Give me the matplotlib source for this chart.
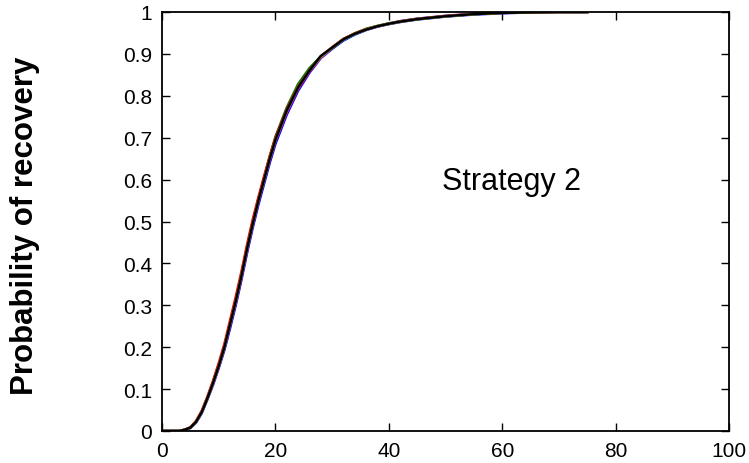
import matplotlib
matplotlib.use('Agg')
import matplotlib.pyplot as plt

plt.rcParams['font.family'] = ['Liberation Sans', 'DejaVu Sans']

# recovery time grid (x) and cumulative probability per run
days = [0, 3, 4, 5, 6, 7, 8, 9, 10, 11, 12, 13, 14, 15, 16, 17, 18, 19, 20,
        22, 24, 26, 28, 30, 32, 34, 36, 38, 40, 42, 45, 50, 55, 60, 65, 70, 75]

run_blue = [0, 0, 0.002, 0.007, 0.020, 0.042, 0.075, 0.110, 0.150, 0.193, 0.245, 0.300,
            0.360, 0.425, 0.485, 0.540, 0.590, 0.640, 0.685, 0.755, 0.812, 0.855, 0.890,
            0.912, 0.932, 0.946, 0.957, 0.965, 0.971, 0.976, 0.982, 0.989, 0.994, 0.997,
            0.999, 1.0, 1.0]
run_green = [0, 0, 0.003, 0.008, 0.022, 0.046, 0.079, 0.116, 0.156, 0.201, 0.256, 0.312,
             0.372, 0.437, 0.498, 0.553, 0.604, 0.655, 0.702, 0.772, 0.828, 0.866, 0.894,
             0.913, 0.934, 0.949, 0.960, 0.967, 0.973, 0.978, 0.984, 0.990, 0.995, 0.998,
             0.999, 1.0, 1.0]
run_red = [0, 0, 0.003, 0.009, 0.024, 0.048, 0.082, 0.120, 0.162, 0.208, 0.264, 0.320,
           0.380, 0.445, 0.505, 0.558, 0.608, 0.656, 0.700, 0.768, 0.822, 0.861, 0.893,
           0.916, 0.936, 0.949, 0.959, 0.966, 0.972, 0.977, 0.983, 0.990, 0.995, 0.998,
           0.999, 1.0, 1.0]
run_cyan = [0, 0, 0.002, 0.008, 0.021, 0.044, 0.077, 0.114, 0.154, 0.199, 0.253, 0.308,
            0.368, 0.433, 0.493, 0.548, 0.598, 0.648, 0.693, 0.762, 0.818, 0.858, 0.892,
            0.914, 0.934, 0.947, 0.958, 0.966, 0.972, 0.977, 0.983, 0.990, 0.995, 0.998,
            0.999, 1.0, 1.0]
run_magenta = [0, 0, 0.003, 0.008, 0.021, 0.045, 0.077, 0.113, 0.153, 0.198, 0.252, 0.306,
               0.366, 0.431, 0.492, 0.547, 0.597, 0.647, 0.692, 0.760, 0.816, 0.857, 0.891,
               0.914, 0.935, 0.948, 0.958, 0.966, 0.972, 0.978, 0.984, 0.991, 0.996, 0.998,
               0.999, 1.0, 1.0]
run_yellow = [0, 0, 0.003, 0.008, 0.022, 0.045, 0.078, 0.115, 0.155, 0.200, 0.255, 0.310,
              0.370, 0.435, 0.495, 0.550, 0.600, 0.650, 0.695, 0.764, 0.820, 0.860, 0.893,
              0.915, 0.935, 0.948, 0.958, 0.966, 0.972, 0.977, 0.983, 0.990, 0.995, 0.998,
              0.999, 1.0, 1.0]
run_black = [0, 0, 0.003, 0.008, 0.022, 0.045, 0.078, 0.115, 0.155, 0.200, 0.255, 0.310,
             0.370, 0.435, 0.495, 0.550, 0.600, 0.650, 0.695, 0.765, 0.820, 0.860, 0.895,
             0.915, 0.935, 0.948, 0.958, 0.966, 0.972, 0.977, 0.983, 0.990, 0.995, 0.998,
             0.999, 1.0, 1.0]

runs = [run_blue, run_green, run_red, run_cyan, run_magenta, run_yellow, run_black]
run_colors = ['#0000ff', '#008000', '#ff0000', '#00bfbf', '#bf00bf', '#bfbf00', '#000000']

x_ticks = [0, 20, 40, 60, 80, 100]
y_ticks = [0, 0.1, 0.2, 0.3, 0.4, 0.5, 0.6, 0.7, 0.8, 0.9, 1]
y_tick_labels = ['0', '0.1', '0.2', '0.3', '0.4', '0.5', '0.6', '0.7', '0.8', '0.9', '1']

fig = plt.figure(figsize=(7.49, 4.64), dpi=100)
ax = fig.add_axes([162 / 749, 1 - 432 / 464, 567 / 749, 419 / 464])

for values, color in zip(runs, run_colors):
    ax.plot(days, values, color=color, linewidth=1.8)

ax.set_xlim(0, 100)
ax.set_ylim(0, 1)
ax.set_xticks(x_ticks)
ax.set_yticks(y_ticks)
ax.set_yticklabels(y_tick_labels)
ax.tick_params(direction='in', top=True, right=True, length=6, width=1.0,
               labelsize=15, pad=7)
for spine in ax.spines.values():
    spine.set_linewidth(1.3)

ax.text(61.6, 0.597, 'Strategy 2', fontsize=22, ha='center', va='center')
fig.text(25 / 749, 1 - 226 / 464, 'Probability of recovery', rotation=90,
         fontsize=22.5, fontweight='bold', ha='center', va='center')

fig.savefig('out.png', dpi=100)
